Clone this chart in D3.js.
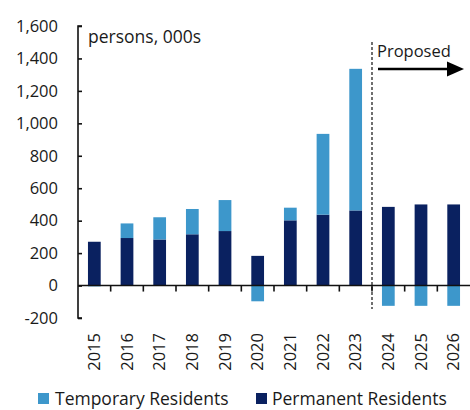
<!DOCTYPE html>
<html><head><meta charset="utf-8">
<script src="https://cdn.jsdelivr.net/npm/d3@7"></script>
<style>body{margin:0;background:#fff}svg{display:block}text{font-family:"Open Sans",sans-serif;fill:#1a1a1a}</style>
</head><body><svg id="c" width="470" height="410"></svg>
<script>
const years = ["2015","2016","2017","2018","2019","2020","2021","2022","2023","2024","2025","2026"];
const permanent = [270, 293, 284, 316, 336, 183, 402, 437, 463, 485, 500, 500];
const temporary = [-5, 90, 137, 156, 191, -97, 78, 498, 873, -125, -125, -125];
const yTicks = [-200, 0, 200, 400, 600, 800, 1000, 1200, 1400, 1600];
const seriesNames = ["Temporary Residents", "Permanent Residents"];
const colors = {"Temporary Residents": "#3d97cb", "Permanent Residents": "#0a2160"};

const svg = d3.select("#c");
const x0 = 78, x1 = 470, yTop = 26, yBot = 318;
const x = d3.scaleBand().domain(years).range([x0, x1]).paddingInner(0.61).paddingOuter(0.305);
const y = d3.scaleLinear().domain([-200, 1600]).range([yBot, yTop]);
const fmt = d3.format(",");

years.forEach((yr, i) => {
  const p = permanent[i], t = temporary[i];
  svg.append("rect").attr("x", x(yr)).attr("width", x.bandwidth())
    .attr("y", y(Math.max(0, p))).attr("height", Math.abs(y(p) - y(0)))
    .attr("fill", colors["Permanent Residents"]);
  const base = t >= 0 ? p : 0;
  const top = base + t;
  svg.append("rect").attr("x", x(yr)).attr("width", x.bandwidth())
    .attr("y", y(Math.max(base, top))).attr("height", Math.abs(y(top) - y(base)))
    .attr("fill", colors["Temporary Residents"]);
});

const yAxis = d3.axisRight(y).tickValues(yTicks).tickSize(4).tickFormat("");
const ga = svg.append("g").attr("transform", `translate(${x0},0)`).call(yAxis);
ga.select(".domain").attr("d", `M4,${yTop}H0V${yBot}H4`).attr("stroke", "#111").attr("stroke-width", 1.6);
ga.selectAll(".tick line").attr("stroke", "#111").attr("stroke-width", 1.6);
svg.append("g").selectAll("text").data(yTicks).join("text")
  .attr("x", 58).attr("y", d => y(d)).attr("dy", "0.35em")
  .attr("text-anchor", "end").style("font-size", "16.5px").text(d => fmt(d).replace("−", "-"));

const step = x.step();
svg.append("line").attr("x1", x0).attr("x2", x1).attr("y1", y(0)).attr("y2", y(0))
  .attr("stroke", "#111").attr("stroke-width", 1.6);
years.slice(1).forEach(yr => {
  const bx = x(yr) - (step - x.bandwidth()) / 2;
  svg.append("line").attr("x1", bx).attr("x2", bx).attr("y1", y(0)).attr("y2", y(0) + 6)
    .attr("stroke", "#111").attr("stroke-width", 1.6);
});
svg.append("g").selectAll("text").data(years).join("text")
  .attr("transform", d => `translate(${x(d) + x.bandwidth() / 2},333) rotate(-90)`)
  .attr("text-anchor", "end").attr("dy", "0.35em").style("font-size", "16.5px").text(d => d);

svg.append("text").attr("x", 88).attr("y", 43).style("font-size", "17.5px").text("persons, 000s");

const divX = x("2024") - (step - x.bandwidth()) / 2;
svg.append("line").attr("x1", divX).attr("x2", divX).attr("y1", 42).attr("y2", 309)
  .attr("stroke", "#111").attr("stroke-width", 1.2).attr("stroke-dasharray", "3,2");
svg.append("text").attr("x", 377).attr("y", 57).style("font-size", "16.5px").text("Proposed");
svg.append("line").attr("x1", 378).attr("x2", 450).attr("y1", 69).attr("y2", 69)
  .attr("stroke", "#000").attr("stroke-width", 2.5);
svg.append("path").attr("d", "M447,61.5L464,69L447,76.5Z").attr("fill", "#000");

const lg = [{name: seriesNames[0], sx: 38, tx: 55}, {name: seriesNames[1], sx: 256, tx: 272}];
lg.forEach(l => {
  svg.append("rect").attr("x", l.sx).attr("y", 393).attr("width", 11).attr("height", 11).attr("fill", colors[l.name]);
  svg.append("text").attr("x", l.tx).attr("y", 398.5).attr("dy", "0.35em").style("font-size", "17.5px").text(l.name);
});
</script></body></html>
